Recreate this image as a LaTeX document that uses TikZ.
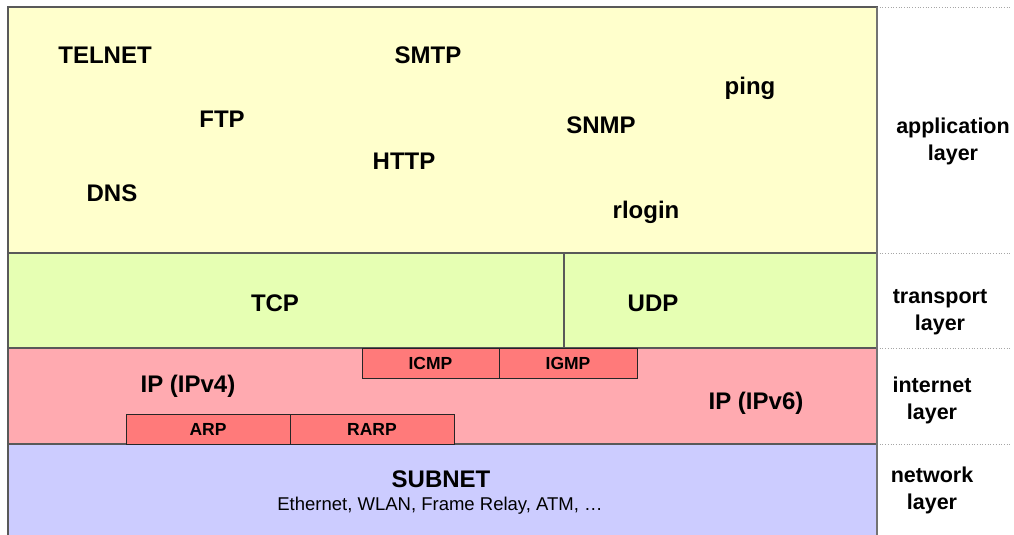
\documentclass[tikz,border=0pt]{standalone}
\usepackage{fontspec}
\setmainfont{Liberation Sans}
\begin{document}
\begin{tikzpicture}[x=1pt,y=-1pt,
  layerbox/.style={draw=black!65,line width=1.1pt,inner sep=0pt,outer sep=0pt,anchor=north west},
  protobox/.style={draw=black!85,line width=0.8pt,fill=protored,inner sep=0pt,outer sep=0pt,anchor=north west},
  big/.style={font=\fontsize{24}{28}\selectfont\bfseries},
  small/.style={font=\fontsize{17.5}{20}\selectfont\bfseries},
  side/.style={font=\fontsize{21.5}{27}\selectfont\bfseries,align=center},
  sep/.style={draw=black!35,line width=0.7pt,dotted}]
\definecolor{appyellow}{HTML}{FFFFCC}
\definecolor{transgreen}{HTML}{E6FFB3}
\definecolor{netpink}{HTML}{FFAAB0}
\definecolor{protored}{HTML}{FF7A7A}
\definecolor{subblue}{HTML}{CCCCFF}
\useasboundingbox (0,0) rectangle (1014,535);
\fill[white] (0,0) rectangle (1014,535);

% layer rectangles
\node[layerbox,fill=appyellow,minimum width=869pt,minimum height=246pt] (app) at (8,7) {};
\node[layerbox,fill=transgreen,minimum width=556pt,minimum height=95pt] (tcpbox) at (8,253) {};
\node[layerbox,fill=transgreen,minimum width=313pt,minimum height=95pt] (udpbox) at (564,253) {};
\node[layerbox,fill=netpink,minimum width=869pt,minimum height=96pt] (inet) at (8,348) {};
\node[layerbox,fill=subblue,minimum width=869pt,minimum height=96pt] (subnet) at (8,444) {};

% protocol boxes inside the internet layer
\node[protobox,minimum width=137pt,minimum height=30pt] (icmp) at (362,348) {};
\node[protobox,minimum width=138pt,minimum height=30pt] (igmp) at (499,348) {};
\node[protobox,minimum width=164pt,minimum height=30pt] (arp) at (126,414) {};
\node[protobox,minimum width=164pt,minimum height=30pt] (rarp) at (290,414) {};

% right-hand separators
\coordinate (s0) at (1010,7);
\coordinate (s1) at (1010,253);
\coordinate (s2) at (1010,348);
\coordinate (s3) at (1010,444);
\draw[sep] (app.north east) -- (s0);
\draw[sep] (app.south east) -- (s1);
\draw[sep] (udpbox.south east) -- (s2);
\draw[sep] (inet.south east) -- (s3);
\draw[draw=black!55,line width=1.1pt] (app.north east) -- (877,535);

% application protocols
\node[big] (telnet) at (105,55) {TELNET};
\node[big] (smtp) at (428,55) {SMTP};
\node[big] (ping) at (750,88) {ping};
\node[big] (ftp) at (222,119) {FTP};
\node[big] (snmp) at (601,125) {SNMP};
\node[big] (http) at (404,161) {HTTP};
\node[big] (dns) at (112,193) {DNS};
\node[big] (rlogin) at (646,212) {rlogin};

% transport protocols
\node[big] (tcp) at (275,303) {TCP};
\node[big] (udp) at (653,303) {UDP};

% internet protocols
\node[big] (ipv4) at (188,386) {IP (IPv4)};
\node[big] (ipv6) at (756,403) {IP (IPv6)};
\node[small] at (icmp.center) {ICMP};
\node[small] at (igmp.center) {IGMP};
\node[small] at (arp.center) {ARP};
\node[small] at (rarp.center) {RARP};

% network layer
\node[big] (subnettxt) at (441,479) {SUBNET};
\node[font=\fontsize{18.5}{22}\selectfont] (media) at (440,506) {Ethernet, WLAN, Frame Relay, ATM, \dots};

% layer names
\node[side] (lapp) at (953,141) {application\\layer};
\node[side] (ltrans) at (940,312) {transport\\layer};
\node[side] (linet) at (932,400) {internet\\layer};
\node[side] (lnet) at (932,490) {network\\layer};
\end{tikzpicture}
\end{document}
